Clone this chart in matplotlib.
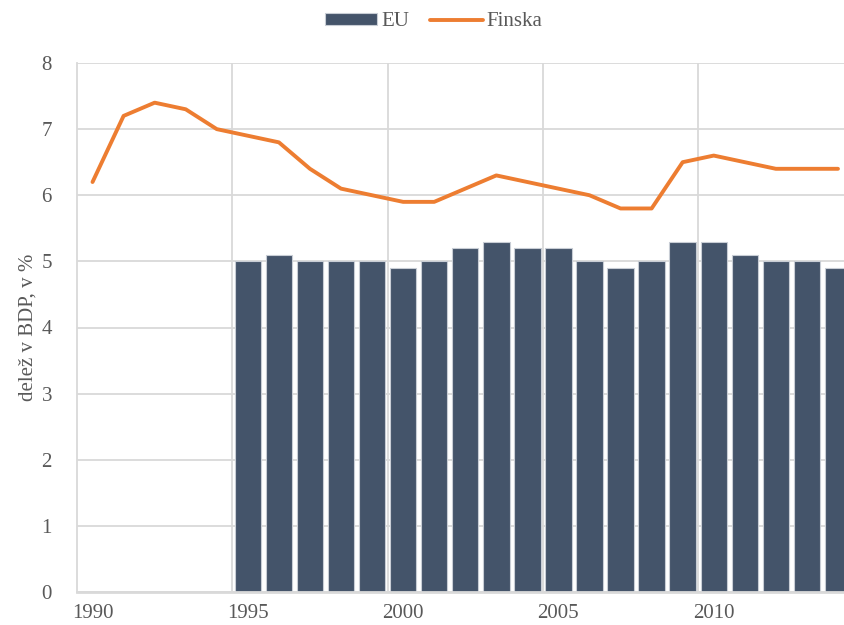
import numpy as np
import matplotlib.pyplot as plt

# config
DPI = 100
BAR_COLOR = '#44546A'
LINE_COLOR = '#ED7D31'
GRID_COLOR = '#D9D9D9'
TEXT_COLOR = '#595959'

plt.rcParams['font.family'] = ['Liberation Serif', 'DejaVu Serif']

years = list(range(1990, 2015))
finska = [6.2, 7.2, 7.4, 7.3, 7.0, 6.9, 6.8, 6.4, 6.1, 6.0,
          5.9, 5.9, 6.1, 6.3, 6.2, 6.1, 6.0, 5.8, 5.8, 6.5,
          6.6, 6.5, 6.4, 6.4, 6.4]
eu_years = list(range(1995, 2015))
eu = [5.0, 5.1, 5.0, 5.0, 5.0, 4.9, 5.0, 5.2, 5.3, 5.2,
      5.2, 5.0, 4.9, 5.0, 5.3, 5.3, 5.1, 5.0, 5.0, 4.9]
xtick_years = [1990, 1995, 2000, 2005, 2010]

fig = plt.figure(figsize=(8.45, 6.25), dpi=DPI)
# plot area runs a little past the right edge, like the cropped original
ax = fig.add_axes([77 / 845, 1 - 592 / 625, 776.5 / 845, 529 / 625])

bars = ax.bar(eu_years, eu, width=0.85, color=BAR_COLOR, edgecolor='#C8CDD5',
              linewidth=0.8, label='EU', zorder=2)
line, = ax.plot(years, finska, color=LINE_COLOR, linewidth=2.8,
                solid_capstyle='round', solid_joinstyle='round',
                label='Finska', zorder=3)

ax.set_xlim(1989.5, 2014.5)
ax.set_ylim(0, 8)
ax.set_yticks(range(0, 9))
ax.set_xticks(xtick_years)
ax.tick_params(axis='both', length=0, labelsize=15, labelcolor=TEXT_COLOR)
ax.tick_params(axis='x', pad=9)
ax.tick_params(axis='y', pad=18)

# horizontal grid at every unit, vertical grid on 5-year category boundaries
ax.yaxis.grid(True, color=GRID_COLOR, linewidth=1.3, zorder=0)
for x in [1994.5, 1999.5, 2004.5, 2009.5]:
    ax.axvline(x, color=GRID_COLOR, linewidth=1.3, zorder=0)
ax.set_axisbelow(True)

for side in ['top', 'right']:
    ax.spines[side].set_visible(False)
ax.spines['left'].set_color(GRID_COLOR)
ax.spines['left'].set_linewidth(1.3)
ax.spines['bottom'].set_color(GRID_COLOR)
ax.spines['bottom'].set_linewidth(2)

ax.set_ylabel('delež v BDP, v %', fontsize=15, color=TEXT_COLOR, labelpad=3)

fig.legend([bars, line], ['EU', 'Finska'], loc='center',
           bbox_to_anchor=(434 / 845, 1 - 22 / 625), ncol=2,
           frameon=False, fontsize=15, labelcolor=TEXT_COLOR,
           handlelength=2.5, handleheight=0.45, handletextpad=0.2,
           columnspacing=1.0)

fig.savefig('out.png', dpi=DPI)
